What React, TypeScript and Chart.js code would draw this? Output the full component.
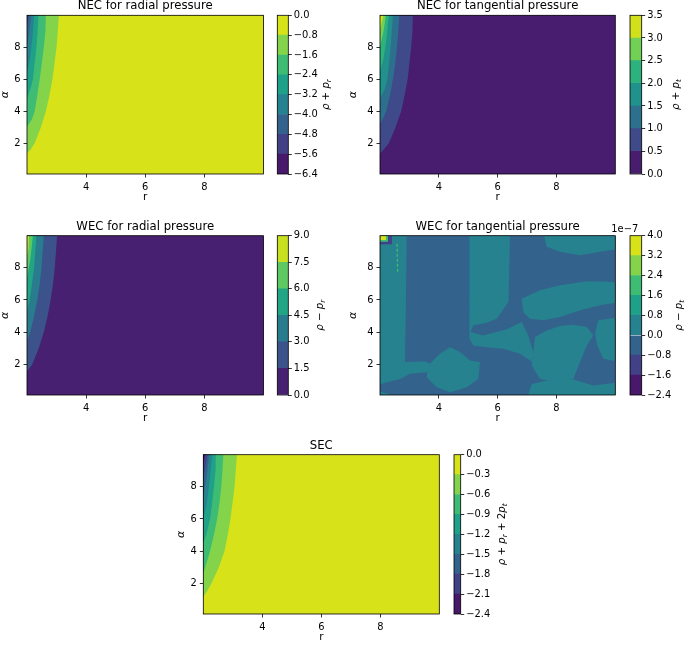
import React, { useEffect, useRef } from 'react';
import { Chart, registerables } from 'chart.js';

Chart.register(...registerables);
Chart.defaults.font.family = "'DejaVu Sans', sans-serif";
Chart.defaults.color = '#000';

type P = [number, number];
type Seg = { t: string; it?: boolean; sub?: boolean };

// ---------------- DATA ----------------
const R_TICKS = [4, 6, 8];
const ALPHA_TICKS = [2, 4, 6, 8];
const R_MIN = 2.0;
const R_MAX = 10.0;
const ALPHA_MIN = 0.08;
const ALPHA_MAX = 10.0;

const VIRIDIS_8 = ['#48186a', '#424086', '#33638d', '#26828e', '#1fa088', '#3fbc73', '#84d44b', '#d8e219'];
const VIRIDIS_7 = ['#481c6e', '#3e4a89', '#2d708e', '#21918c', '#2db27d', '#73d056', '#d0e11c'];
const VIRIDIS_6 = ['#482071', '#3b528b', '#297b8e', '#21a585', '#5ec962', '#c8e020'];

// NEC radial: contour lines [r, alpha], top edge -> left edge
const NEC_R_LEVELS = [-6.4, -5.6, -4.8, -4.0, -3.2, -2.4, -1.6, -0.8, 0.0];
const NEC_R_M08: P[] = [[3.08, 10], [3.04, 9], [3.0, 8], [2.93, 7], [2.86, 6], [2.76, 5], [2.64, 4], [2.47, 3], [2.26, 2], [2.12, 1.6], [2.0, 1.38]];
const NEC_R_M16: P[] = [[2.64, 10], [2.61, 9], [2.57, 8], [2.5, 7], [2.43, 6], [2.35, 5], [2.26, 4], [2.17, 3.5], [2.0, 3.03]];
const NEC_R_M24: P[] = [[2.39, 10], [2.36, 9], [2.32, 8], [2.26, 7], [2.2, 6], [2.13, 5.5], [2.0, 4.8]];
const NEC_R_M32: P[] = [[2.24, 10], [2.18, 8.5], [2.1, 7.3], [2.0, 6.4]];
const NEC_R_M40: P[] = [[2.15, 10], [2.08, 9], [2.0, 8.0]];
const NEC_R_M48: P[] = [[2.07, 10], [2.0, 9.3]];
const NEC_R_M56: P[] = [[2.02, 10], [2.0, 9.8]];

// NEC tangential
const NEC_T_LEVELS = [0.0, 0.5, 1.0, 1.5, 2.0, 2.5, 3.0, 3.5];
const NEC_T_05: P[] = [[3.12, 10], [3.09, 9], [3.06, 8], [3.0, 7], [2.94, 6], [2.84, 5], [2.72, 4], [2.53, 3], [2.3, 2], [2.12, 1.6], [2.0, 1.35]];
const NEC_T_10: P[] = [[2.66, 10], [2.62, 9], [2.58, 8], [2.52, 7], [2.44, 6], [2.34, 5], [2.21, 4], [2.12, 3.6], [2.0, 3.2]];
const NEC_T_15: P[] = [[2.44, 10], [2.4, 9], [2.36, 8], [2.31, 7], [2.25, 6], [2.16, 5.4], [2.0, 4.8]];
const NEC_T_20: P[] = [[2.3, 10], [2.22, 8.5], [2.12, 7.3], [2.0, 6.5]];
const NEC_T_25: P[] = [[2.2, 10], [2.12, 9], [2.0, 8.0]];
const NEC_T_30: P[] = [[2.12, 10], [2.05, 9.5], [2.0, 9.0]];

// WEC radial
const WEC_R_LEVELS = [0.0, 1.5, 3.0, 4.5, 6.0, 7.5, 9.0];
const WEC_R_15: P[] = [[3.02, 10], [2.98, 9], [2.94, 8], [2.88, 7], [2.8, 6], [2.7, 5], [2.57, 4], [2.4, 3], [2.18, 2], [2.0, 1.55]];
const WEC_R_30: P[] = [[2.57, 10], [2.53, 9], [2.49, 8], [2.43, 7], [2.35, 6], [2.24, 5], [2.11, 4], [2.0, 3.4]];
const WEC_R_45: P[] = [[2.32, 10], [2.28, 9], [2.24, 8], [2.17, 7], [2.09, 6], [2.0, 5.2]];
const WEC_R_60: P[] = [[2.2, 10], [2.14, 9], [2.12, 8.6], [2.06, 8], [2.0, 7.3]];
const WEC_R_75: P[] = [[2.07, 10], [2.05, 9.2], [2.0, 8.6]];

// WEC tangential (x 1e-7): regions of the 0..0.8 band over the -0.8..0 band
const WEC_T_LEVELS = [-2.4, -1.6, -0.8, 0.0, 0.8, 1.6, 2.4, 3.2, 4.0];
const WEC_T_LEFT: P[] = [[1.9, 9.46], [2.4, 9.46], [2.4, 10.2], [2.91, 10.2], [2.88, 5.67], [2.85, 2.13], [2.34, 1.92], [1.9, 1.96]];
const WEC_T_LOWLEFT: P[] = [[1.9, 1.96], [2.85, 2.13], [3.53, 2.17], [3.81, 1.96], [3.59, 1.5], [3.02, 1.4], [2.68, 1.08], [2.23, 0.88], [1.9, 0.67]];
const WEC_T_CORNER: P[] = [[1.9, 0.35], [2.3, 0.15], [2.34, -0.2], [1.9, -0.2]];
const WEC_T_MIDLOW: P[] = [[3.64, 1.92], [4.04, 2.65], [4.38, 3.06], [4.72, 2.75], [5.06, 2.23], [5.4, 2.13], [5.34, 1.08], [4.95, 0.56], [4.38, 0.25], [3.93, 0.56], [3.59, 1.19]];
const WEC_T_BAND: P[] = [[5.04, 10.2], [6.42, 10.2], [6.37, 5.88], [5.97, 4.83], [5.63, 4.58], [5.17, 4.42], [5.08, 4.0], [5.51, 3.79], [6.31, 4.17], [6.82, 4.63], [7.04, 3.79], [7.21, 2.75], [7.19, 2.13], [6.76, 2.65], [6.19, 2.96], [5.63, 3.06], [5.17, 3.17], [5.04, 3.58]];
const WEC_T_TOPRIGHT: P[] = [[7.55, 10.2], [9.71, 10.2], [10.2, 9.83], [10.2, 9.21], [9.48, 9.0], [8.8, 8.79], [8.12, 9.0], [7.67, 9.31]];
const WEC_T_MIDRIGHT: P[] = [[6.82, 6.08], [7.44, 6.6], [8.12, 6.92], [9.03, 7.17], [9.71, 7.13], [10.2, 7.08], [10.2, 5.88], [9.48, 5.67], [8.8, 5.35], [8.12, 4.94], [7.55, 4.73], [7.1, 4.83], [6.87, 5.25]];
const WEC_T_LOWRIGHT: P[] = [[7.27, 3.69], [7.67, 4.1], [8.12, 4.38], [8.57, 4.46], [9.03, 4.31], [9.25, 3.79], [9.03, 3.17], [8.8, 2.13], [8.57, 1.08], [8.01, 0.88], [7.44, 1.08], [7.16, 1.92]];
const WEC_T_RIGHTEDGE: P[] = [[9.42, 4.73], [10.2, 4.94], [10.2, 2.13], [9.59, 2.33], [9.39, 3.17], [9.31, 3.9]];
const WEC_T_BOTTOMRIGHT: P[] = [[6.99, -0.2], [7.16, 0.77], [7.67, 0.98], [8.57, 1.04], [9.25, 0.67], [10.2, 0.88], [10.2, -0.2]];
const WEC_T_SPOT_RING: P[] = [[1.9, 9.46], [2.4, 9.46], [2.4, 10.2], [1.9, 10.2]];
const WEC_T_SPOT_MID: P[] = [[1.9, 9.62], [2.27, 9.62], [2.27, 10.2], [1.9, 10.2]];
const WEC_T_SPOT_CORE: P[] = [[2.02, 9.74], [2.2, 9.74], [2.2, 10.2], [2.02, 10.2]];
const WEC_T_STREAK: P[] = [[2.58, 9.5], [2.6, 7.7]];

// SEC
const SEC_LEVELS = [-2.4, -2.1, -1.8, -1.5, -1.2, -0.9, -0.6, -0.3, 0.0];
const SEC_M03: P[] = [[3.14, 10], [3.1, 9], [3.06, 8], [2.99, 7], [2.92, 6], [2.83, 5], [2.72, 4], [2.53, 3], [2.28, 2], [2.13, 1.5], [2.0, 1.15]];
const SEC_M06: P[] = [[2.68, 10], [2.65, 9], [2.61, 8], [2.55, 7], [2.47, 6], [2.36, 5], [2.23, 4], [2.07, 3], [2.0, 2.6]];
const SEC_M09: P[] = [[2.43, 10], [2.4, 9], [2.36, 8], [2.3, 7], [2.23, 6], [2.1, 5], [2.0, 4.5]];
const SEC_M12: P[] = [[2.3, 10], [2.22, 8.5], [2.12, 7], [2.0, 6.0]];
const SEC_M15: P[] = [[2.2, 10], [2.12, 8.7], [2.0, 7.3]];
const SEC_M18: P[] = [[2.14, 10], [2.07, 9.2], [2.0, 8.5]];
const SEC_M21: P[] = [[2.07, 10], [2.0, 9.5]];

// text
const TITLES = ['NEC for radial pressure', 'NEC for tangential pressure', 'WEC for radial pressure', 'WEC for tangential pressure', 'SEC'];
const X_LABEL = 'r';
const Y_LABEL = 'α';
const CB_LABELS: Seg[][] = [
  [{ t: 'ρ', it: true }, { t: ' + ' }, { t: 'p', it: true }, { t: 'r', it: true, sub: true }],
  [{ t: 'ρ', it: true }, { t: ' + ' }, { t: 'p', it: true }, { t: 't', it: true, sub: true }],
  [{ t: 'ρ', it: true }, { t: ' − ' }, { t: 'p', it: true }, { t: 'r', it: true, sub: true }],
  [{ t: 'ρ', it: true }, { t: ' − ' }, { t: 'p', it: true }, { t: 't', it: true, sub: true }],
  [{ t: 'ρ', it: true }, { t: ' + ' }, { t: 'p', it: true }, { t: 'r', it: true, sub: true }, { t: ' + 2' }, { t: 'p', it: true }, { t: 't', it: true, sub: true }],
];
const WEC_T_OFFSET = '1e−7';

// ---------------- helpers ----------------
const FULL: P[] = [[1.9, -0.2], [10.2, -0.2], [10.2, 10.6], [1.9, 10.6]];
const leftOf = (c: P[]): P[] => [[c[0][0], 10.6], ...c, [1.9, c[c.length - 1][1]], [1.9, 10.6]];

type Region = { pts: P[]; color: string };
type Box = { left: number; top: number; w: number; h: number; yW?: number; padTop?: number; padRight?: number; padLeft?: number; padBottom?: number; labelX?: number };

const fmt = (v: number) => {
  const s = Math.abs(v) < 1e-9 ? '0.0' : v.toFixed(1);
  return s.replace('-', '\u2212');
};

const framePlugin = {
  id: 'frame',
  afterDraw(chart: any) {
    const { ctx, chartArea: a } = chart;
    ctx.save();
    ctx.strokeStyle = '#000';
    ctx.lineWidth = 0.8;
    ctx.strokeRect(a.left, a.top, a.right - a.left, a.bottom - a.top);
    ctx.restore();
  },
};

const FS = 9.9;

function ContourPanel({ box, title, regions, lines = [] }: { box: Box; title: string; regions: Region[]; lines?: { pts: P[]; color: string }[] }) {
  const ref = useRef<HTMLCanvasElement>(null);
  useEffect(() => {
    const n = regions.length;
    const datasets: any[] = regions.map((r, i) => ({
      data: r.pts.map(([x, y]) => ({ x, y })),
      showLine: true,
      fill: 'shape',
      backgroundColor: r.color,
      borderColor: 'rgba(0,0,0,0)',
      borderWidth: 0,
      pointRadius: 0,
      pointHoverRadius: 0,
      tension: 0,
      order: n + 10 - i,
    }));
    lines.forEach((l) => {
      datasets.push({
        data: l.pts.map(([x, y]) => ({ x, y })),
        showLine: true,
        fill: false,
        borderColor: l.color,
        borderWidth: 1.3,
        borderDash: [3, 2],
        pointRadius: 0,
        order: 0,
      });
    });
    const tickCommon = {
      display: true,
      drawOnChartArea: false,
      drawTicks: true,
      tickLength: 3.5,
      tickWidth: 0.8,
      tickColor: '#000',
    };
    const chart = new Chart(ref.current!, {
      type: 'scatter',
      data: { datasets },
      plugins: [framePlugin],
      options: {
        responsive: false,
        animation: false,
        events: [],
        layout: { padding: { left: 0, right: box.padRight ?? 0, top: box.padTop ?? 0, bottom: 0 } },
        plugins: {
          legend: { display: false },
          tooltip: { enabled: false },
          title: {
            display: true,
            text: title,
            fullSize: false,
            color: '#000',
            font: { size: 11.7, weight: 'normal', lineHeight: 1.1 },
            padding: { top: 0, bottom: 2.43 },
          },
        },
        scales: {
          x: {
            type: 'linear',
            min: R_MIN,
            max: R_MAX,
            afterBuildTicks: (s: any) => { s.ticks = R_TICKS.map((v) => ({ value: v })); },
            afterFit: (s: any) => { s.height = 30; },
            ticks: { color: '#000', font: { size: FS }, padding: 3.5, maxRotation: 0, autoSkip: false, callback: (v: any) => String(v) },
            grid: tickCommon,
            border: { display: false },
            title: { display: true, text: X_LABEL, color: '#000', font: { size: 10.5, lineHeight: 1.2 }, padding: { top: 0, bottom: 0 } },
          },
          y: {
            type: 'linear',
            min: ALPHA_MIN,
            max: ALPHA_MAX,
            afterBuildTicks: (s: any) => { s.ticks = ALPHA_TICKS.map((v) => ({ value: v })); },
            afterFit: (s: any) => { s.width = box.yW ?? 27; },
            ticks: { color: '#000', font: { size: FS }, padding: 3, autoSkip: false, callback: (v: any) => String(v) },
            grid: tickCommon,
            border: { display: false },
            title: { display: true, text: Y_LABEL, color: '#000', font: { size: 11, style: 'italic', lineHeight: 0.95 }, padding: { top: 0, bottom: 0 } },
          },
        },
      } as any,
    });
    return () => chart.destroy();
  }, []);
  return (
    <canvas
      ref={ref}
      width={box.w}
      height={box.h}
      style={{ position: 'absolute', left: box.left, top: box.top, width: box.w, height: box.h }}
    />
  );
}

function drawMath(ctx: CanvasRenderingContext2D, segs: Seg[], cx: number, cy: number, size: number) {
  ctx.save();
  ctx.translate(cx, cy);
  ctx.rotate(-Math.PI / 2);
  const fontFor = (s: Seg) => `${s.it ? 'italic ' : ''}${s.sub ? size * 0.7 : size}px 'DejaVu Sans'`;
  let total = 0;
  const widths = segs.map((s) => {
    ctx.font = fontFor(s);
    const w = ctx.measureText(s.t).width;
    total += w;
    return w;
  });
  let x = -total / 2;
  ctx.fillStyle = '#000';
  ctx.textBaseline = 'alphabetic';
  ctx.textAlign = 'left';
  segs.forEach((s, i) => {
    ctx.font = fontFor(s);
    ctx.fillText(s.t, x, size * 0.35 + (s.sub ? size * 0.22 : 0));
    x += widths[i];
  });
  ctx.restore();
}

function ColorBar({ box, levels, colors, label, offsetText }: { box: Box; levels: number[]; colors: string[]; label: Seg[]; offsetText?: string }) {
  const ref = useRef<HTMLCanvasElement>(null);
  useEffect(() => {
    const datasets = colors.map((c, i) => ({
      data: [[levels[i], levels[i + 1]]],
      backgroundColor: c,
      borderWidth: 0,
      barPercentage: 1,
      categoryPercentage: 1,
      grouped: false,
    }));
    const labelPlugin = {
      id: 'cblabel',
      afterDraw(chart: any) {
        const { ctx, chartArea: a } = chart;
        drawMath(ctx, label, box.labelX ?? 55, (a.top + a.bottom) / 2, 10.2);
        if (offsetText) {
          ctx.save();
          ctx.font = `${FS}px 'DejaVu Sans'`;
          ctx.fillStyle = '#000';
          ctx.textAlign = 'right';
          ctx.textBaseline = 'alphabetic';
          ctx.fillText(offsetText, a.right - 3.5, a.top - 3.8);
          ctx.restore();
        }
      },
    };
    const chart = new Chart(ref.current!, {
      type: 'bar',
      data: { labels: [''], datasets: datasets as any },
      plugins: [framePlugin, labelPlugin],
      options: {
        responsive: false,
        animation: false,
        events: [],
        layout: { padding: { left: box.padLeft ?? 0, right: 0, top: box.padTop ?? 0, bottom: box.padBottom ?? 0 } },
        plugins: { legend: { display: false }, tooltip: { enabled: false }, title: { display: false } },
        scales: {
          x: { display: false },
          y: {
            type: 'linear',
            position: 'right',
            min: levels[0],
            max: levels[levels.length - 1],
            afterBuildTicks: (s: any) => { s.ticks = levels.map((v) => ({ value: v })); },
            afterFit: (s: any) => { s.width = box.yW ?? 40; },
            ticks: { color: '#000', font: { size: FS }, padding: 2, autoSkip: false, callback: (v: any) => fmt(Number(v)) },
            grid: { display: true, drawOnChartArea: false, drawTicks: true, tickLength: 3.5, tickWidth: 0.8, tickColor: '#000' },
            border: { display: false },
          },
        },
      } as any,
    });
    return () => chart.destroy();
  }, []);
  return (
    <canvas
      ref={ref}
      width={box.w}
      height={box.h}
      style={{ position: 'absolute', left: box.left, top: box.top, width: box.w, height: box.h }}
    />
  );
}

// ---------------- layout ----------------
const PANEL_BOXES: Box[] = [
  { left: 0, top: 0, w: 270, h: 204, yW: 27, padTop: 0, padRight: 6.5 },
  { left: 348, top: 0, w: 270, h: 204, yW: 32, padTop: 0, padRight: 2.7 },
  { left: 0, top: 220, w: 270, h: 205, yW: 27, padTop: 0.4, padRight: 6.5 },
  { left: 348, top: 220, w: 270, h: 205, yW: 32, padTop: 0.4, padRight: 2.7 },
  { left: 176, top: 439, w: 270, h: 205, yW: 27.3, padTop: 0.4, padRight: 6.7 },
];
const CB_BOXES: Box[] = [
  { left: 270, top: 0, w: 70, h: 204, padLeft: 7.3, padTop: 15.3, padBottom: 30, yW: 51.7, labelX: 55 },
  { left: 620, top: 0, w: 65, h: 204, padLeft: 10, padTop: 15.3, padBottom: 30, yW: 43.3, labelX: 55 },
  { left: 270, top: 220, w: 70, h: 205, padLeft: 7.3, padTop: 15.7, padBottom: 30, yW: 51.7, labelX: 49 },
  { left: 598, top: 200, w: 87, h: 225, padLeft: 32, padTop: 35.7, padBottom: 30, yW: 43.3, labelX: 80 },
  { left: 446, top: 439, w: 80, h: 205, padLeft: 8, padTop: 15.7, padBottom: 30, yW: 65.3, labelX: 55 },
];

const necR: Region[] = [
  { pts: FULL, color: VIRIDIS_8[7] },
  { pts: leftOf(NEC_R_M08), color: VIRIDIS_8[6] },
  { pts: leftOf(NEC_R_M16), color: VIRIDIS_8[5] },
  { pts: leftOf(NEC_R_M24), color: VIRIDIS_8[4] },
  { pts: leftOf(NEC_R_M32), color: VIRIDIS_8[3] },
  { pts: leftOf(NEC_R_M40), color: VIRIDIS_8[2] },
  { pts: leftOf(NEC_R_M48), color: VIRIDIS_8[1] },
  { pts: leftOf(NEC_R_M56), color: VIRIDIS_8[0] },
];
const necT: Region[] = [
  { pts: FULL, color: VIRIDIS_7[0] },
  { pts: leftOf(NEC_T_05), color: VIRIDIS_7[1] },
  { pts: leftOf(NEC_T_10), color: VIRIDIS_7[2] },
  { pts: leftOf(NEC_T_15), color: VIRIDIS_7[3] },
  { pts: leftOf(NEC_T_20), color: VIRIDIS_7[4] },
  { pts: leftOf(NEC_T_25), color: VIRIDIS_7[5] },
  { pts: leftOf(NEC_T_30), color: VIRIDIS_7[6] },
];
const wecR: Region[] = [
  { pts: FULL, color: VIRIDIS_6[0] },
  { pts: leftOf(WEC_R_15), color: VIRIDIS_6[1] },
  { pts: leftOf(WEC_R_30), color: VIRIDIS_6[2] },
  { pts: leftOf(WEC_R_45), color: VIRIDIS_6[3] },
  { pts: leftOf(WEC_R_60), color: VIRIDIS_6[4] },
  { pts: leftOf(WEC_R_75), color: VIRIDIS_6[5] },
];
const wecT: Region[] = [
  { pts: FULL, color: VIRIDIS_8[2] },
  ...[WEC_T_LEFT, WEC_T_LOWLEFT, WEC_T_CORNER, WEC_T_MIDLOW, WEC_T_BAND, WEC_T_TOPRIGHT, WEC_T_MIDRIGHT, WEC_T_LOWRIGHT, WEC_T_RIGHTEDGE, WEC_T_BOTTOMRIGHT].map((p) => ({ pts: p, color: VIRIDIS_8[3] })),
  { pts: WEC_T_SPOT_RING, color: VIRIDIS_8[1] },
  { pts: WEC_T_SPOT_MID, color: VIRIDIS_8[5] },
  { pts: WEC_T_SPOT_CORE, color: VIRIDIS_8[7] },
];
const sec: Region[] = [
  { pts: FULL, color: VIRIDIS_8[7] },
  { pts: leftOf(SEC_M03), color: VIRIDIS_8[6] },
  { pts: leftOf(SEC_M06), color: VIRIDIS_8[5] },
  { pts: leftOf(SEC_M09), color: VIRIDIS_8[4] },
  { pts: leftOf(SEC_M12), color: VIRIDIS_8[3] },
  { pts: leftOf(SEC_M15), color: VIRIDIS_8[2] },
  { pts: leftOf(SEC_M18), color: VIRIDIS_8[1] },
  { pts: leftOf(SEC_M21), color: VIRIDIS_8[0] },
];

export default function App() {
  return (
    <div style={{ position: 'absolute', left: 0, top: 0, width: 685, height: 645, overflow: 'hidden', background: '#fff' }}>
      <ContourPanel box={PANEL_BOXES[0]} title={TITLES[0]} regions={necR} />
      <ColorBar box={CB_BOXES[0]} levels={NEC_R_LEVELS} colors={VIRIDIS_8} label={CB_LABELS[0]} />
      <ContourPanel box={PANEL_BOXES[1]} title={TITLES[1]} regions={necT} />
      <ColorBar box={CB_BOXES[1]} levels={NEC_T_LEVELS} colors={VIRIDIS_7} label={CB_LABELS[1]} />
      <ContourPanel box={PANEL_BOXES[2]} title={TITLES[2]} regions={wecR} />
      <ColorBar box={CB_BOXES[2]} levels={WEC_R_LEVELS} colors={VIRIDIS_6} label={CB_LABELS[2]} />
      <ContourPanel box={PANEL_BOXES[3]} title={TITLES[3]} regions={wecT} lines={[{ pts: WEC_T_STREAK, color: VIRIDIS_8[5] }]} />
      <ColorBar box={CB_BOXES[3]} levels={WEC_T_LEVELS} colors={VIRIDIS_8} label={CB_LABELS[3]} offsetText={WEC_T_OFFSET} />
      <ContourPanel box={PANEL_BOXES[4]} title={TITLES[4]} regions={sec} />
      <ColorBar box={CB_BOXES[4]} levels={SEC_LEVELS} colors={VIRIDIS_8} label={CB_LABELS[4]} />
    </div>
  );
}
